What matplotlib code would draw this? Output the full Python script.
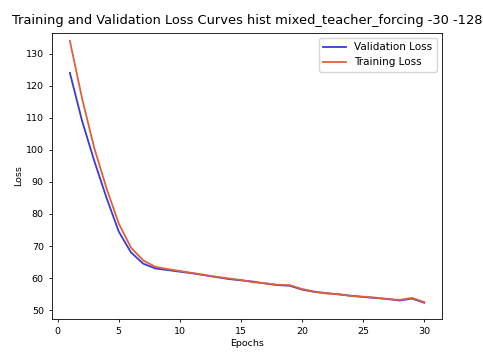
import matplotlib
matplotlib.use("Agg")
import matplotlib.pyplot as plt

epochs = list(range(1, 31))
val_loss = [124.0, 109.0, 96.5, 85.0, 74.5, 68.0, 64.5, 63.0, 62.5, 62.0,
            61.5, 60.9, 60.3, 59.7, 59.3, 58.9, 58.3, 57.8, 57.6, 56.4,
            55.7, 55.3, 54.9, 54.5, 54.1, 53.8, 53.5, 53.0, 53.6, 52.3]
train_loss = [134.0, 116.0, 100.5, 88.0, 77.0, 69.5, 65.5, 63.5, 62.8, 62.2,
              61.6, 61.0, 60.4, 59.9, 59.4, 58.7, 58.4, 57.9, 57.8, 56.6,
              55.8, 55.2, 55.0, 54.4, 54.2, 53.9, 53.4, 53.2, 53.8, 52.5]
yticks = [50, 60, 70, 80, 90, 100, 110, 120, 130]
xticks = [0, 5, 10, 15, 20, 25, 30]
title = "Training and Validation Loss Curves hist mixed_teacher_forcing -30 -128"

fig = plt.figure(figsize=(4.83, 3.53), dpi=100)
ax = fig.add_axes([0.108, 0.096, 0.807, 0.811])
ax.plot(epochs, val_loss, color="#3a3ad8", lw=1.3, label="Validation Loss")
ax.plot(epochs, train_loss, color="#e0603a", lw=1.3, label="Training Loss")
ax.set_xticks(xticks)
ax.set_yticks(yticks)
ax.set_ylim(47.2, 136.5)
ax.tick_params(labelsize=6.8, length=2.5, width=0.6)
for s in ax.spines.values():
    s.set_linewidth(0.6)
ax.set_xlabel("Epochs", fontsize=6.8, labelpad=2)
ax.set_ylabel("Loss", fontsize=6.8, labelpad=2)
ax.set_title(title, fontsize=9.4, pad=6)
ax.legend(fontsize=7.5, loc="upper right", frameon=True, handlelength=2.2)
fig.savefig("out.png", dpi=100)
